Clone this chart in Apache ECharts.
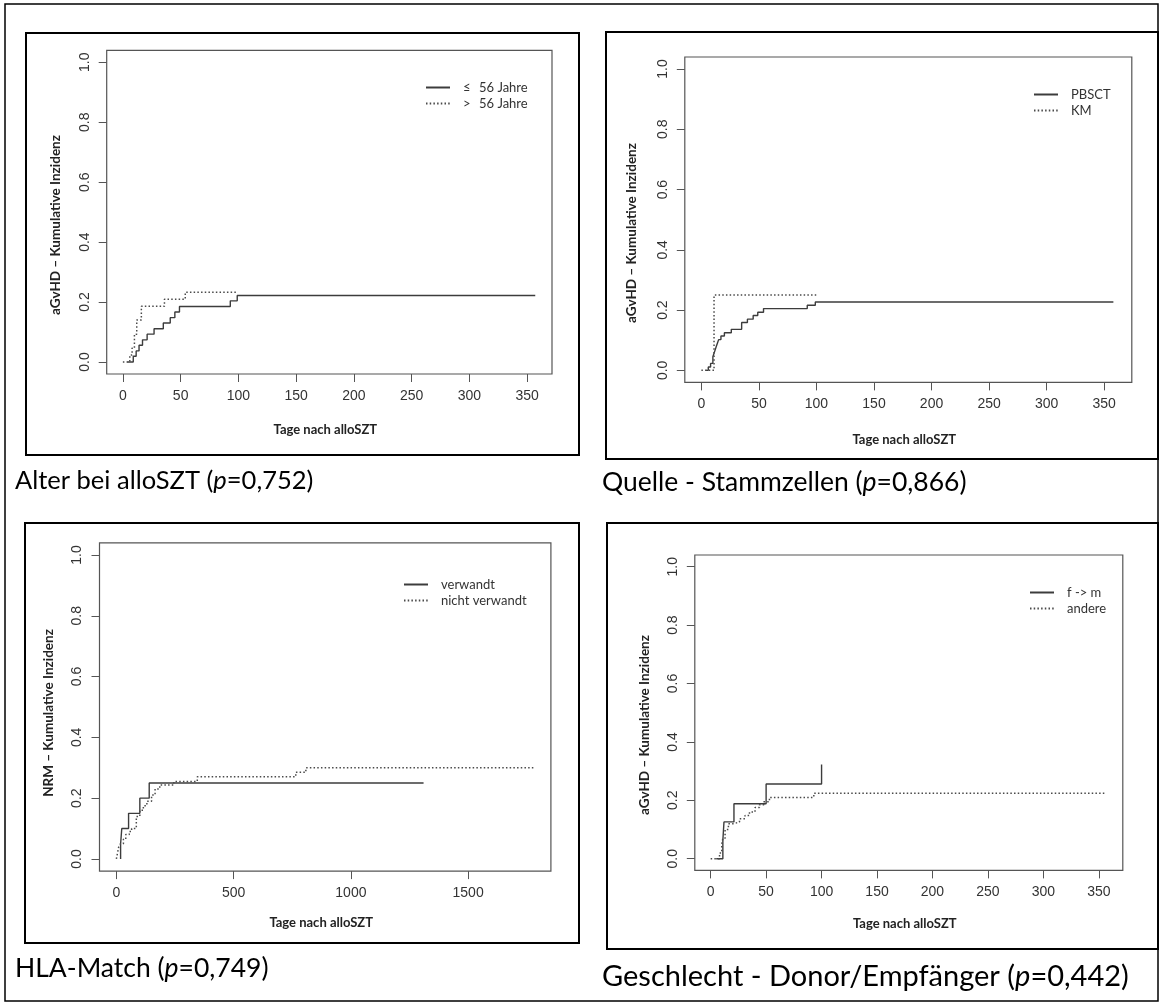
<!DOCTYPE html>
<html>
<head>
<meta charset="utf-8">
<title>Kumulative Inzidenz nach alloSZT</title>
<script src="https://cdn.jsdelivr.net/npm/echarts@6/dist/echarts.min.js"></script>
<style>
  html, body { margin: 0; padding: 0; background: #fff; }
  #chart { width: 1162px; height: 1005px; }
</style>
</head>
<body>
<div id="chart"></div>
<script>
// ---- Alter bei alloSZT (aGvHD) ----
const ageYoungDays = [4, 9, 11.5, 14, 17, 21, 27, 35, 41, 45, 49, 93, 99, 357];
const ageYoungCI   = [0, 0.019, 0.037, 0.056, 0.074, 0.093, 0.111, 0.130, 0.148, 0.167, 0.185, 0.204, 0.222, 0.222];
const ageOldDays   = [0, 6, 8, 10, 12, 16, 36, 54, 98];
const ageOldCI     = [0, 0.023, 0.047, 0.093, 0.140, 0.186, 0.209, 0.233, 0.233];

// ---- Quelle - Stammzellen (aGvHD) ----
const pbsctDays = [4, 6, 8, 10, 11, 12, 13, 14, 15, 17, 20, 26, 35, 40, 45, 49, 54, 92, 99, 358];
const pbsctCI   = [0, 0.011, 0.023, 0.045, 0.057, 0.068, 0.080, 0.091, 0.102, 0.114, 0.125, 0.136, 0.159, 0.170, 0.182, 0.193, 0.205, 0.216, 0.227, 0.227];
const kmDays    = [0, 11, 100];
const kmCI      = [0, 0.25, 0.25];

// ---- HLA-Match (NRM) ----
const relatedDays   = [18, 18, 23, 52, 100, 140, 1310];
const relatedCI     = [0, 0.05, 0.10, 0.15, 0.20, 0.25, 0.25];
const unrelatedDays = [0, 5, 10, 18, 30, 40, 55, 65, 85, 100, 115, 130, 150, 165, 185, 245, 345, 765, 808, 1780];
const unrelatedCI   = [0, 0.02, 0.04, 0.05, 0.065, 0.08, 0.09, 0.10, 0.14, 0.16, 0.175, 0.19, 0.21, 0.23, 0.243, 0.255, 0.27, 0.285, 0.30, 0.30];

// ---- Geschlecht - Donor/Empfänger (aGvHD) ----
const fmDays    = [5, 11, 12, 21, 50, 100];
const fmCI      = [0, 0.063, 0.126, 0.188, 0.256, 0.323];
const otherDays = [0, 8, 10, 11, 13, 16, 21, 26, 31, 35, 40, 44, 48, 53, 93, 355];
const otherCI   = [0, 0.02, 0.05, 0.07, 0.10, 0.12, 0.126, 0.137, 0.148, 0.16, 0.175, 0.185, 0.195, 0.21, 0.224, 0.224];

// ---- axis ticks, labels and texts ----
const xTicksShort = [0, 50, 100, 150, 200, 250, 300, 350];
const xTicksLong  = [0, 500, 1000, 1500];
const yTicks      = [0, 0.2, 0.4, 0.6, 0.8, 1.0];
const xTitle = 'Tage nach alloSZT';
const yTitles = ['aGvHD \u2013 Kumulative Inzidenz', 'aGvHD \u2013 Kumulative Inzidenz',
                 'NRM \u2013 Kumulative Inzidenz', 'aGvHD \u2013 Kumulative Inzidenz'];
const captionNames  = ['Alter bei alloSZT', 'Quelle - Stammzellen', 'HLA-Match', 'Geschlecht - Donor/Empf\u00e4nger'];
const captionPValues = ['0,752', '0,866', '0,749', '0,442'];
const groupNames = [
  ['\u2264 56 Jahre', '> 56 Jahre'],
  ['PBSCT', 'KM'],
  ['verwandt', 'nicht verwandt'],
  ['f -> m', 'andere']
];

const FONT_NUM  = '"Liberation Sans", Arial, Helvetica, sans-serif';
const FONT_TEXT = 'Lato, "Open Sans", sans-serif';
const LINE_SOLID  = '#3c3c3c';
const LINE_DOTTED = '#4a4a4a';
const BOX = '#555';

// panel layout: plot box, axis range, frame, text anchors
const panels = [
  { grid: {left: 106.7, top: 50.3, width: 445.3, height: 323.7}, xMin: -14, xMax: 371.5, ticks: xTicksShort,
    frame: [26, 33, 553, 422], yTitle: [56, 225], xTitleY: 430, caption: [15, 481], captionSize: 25.5, legend: [425, 81],
    curves: [[ageYoungDays, ageYoungCI], [ageOldDays, ageOldCI]] },
  { grid: {left: 684.8, top: 57, width: 447, height: 325.4}, xMin: -14.4, xMax: 374, ticks: xTicksShort,
    frame: [606, 32, 552, 427], yTitle: [632, 233], xTitleY: 440, caption: [602, 482], captionSize: 26.5, legend: [1033, 88],
    curves: [[pbsctDays, pbsctCI], [kmDays, kmCI]] },
  { grid: {left: 99.5, top: 542.8, width: 451.4, height: 328.3}, xMin: -72, xMax: 1853, ticks: xTicksLong,
    frame: [25, 523, 554, 420], yTitle: [49, 713], xTitleY: 923, caption: [15, 968], captionSize: 26.5, legend: [403, 578],
    curves: [[relatedDays, relatedCI], [unrelatedDays, unrelatedCI]] },
  { grid: {left: 694.8, top: 555, width: 428, height: 315.4}, xMin: -14.3, xMax: 371.6, ticks: xTicksShort,
    frame: [607, 523, 551, 426], yTitle: [645, 725], xTitleY: 924, caption: [602, 977], captionSize: 29, legend: [1029, 586],
    curves: [[fmDays, fmCI], [otherDays, otherCI]] }
];

function toPairs(days, values) {
  return days.map((d, i) => [d, values[i]]);
}

const grids = [], xAxes = [], yAxes = [], series = [], legends = [], graphics = [];

// outer border of the figure
graphics.push({ type: 'rect', shape: {x: 5, y: 4, width: 1153, height: 997},
  style: {fill: 'none', stroke: '#000', lineWidth: 1.5}, z: 10 });

panels.forEach((p, i) => {
  grids.push(Object.assign({ show: true, borderColor: BOX, borderWidth: 1.2, backgroundColor: 'transparent' }, p.grid));

  xAxes.push({
    gridIndex: i, type: 'value', min: p.xMin, max: p.xMax,
    axisLine: {show: false, onZero: false}, splitLine: {show: false},
    axisTick: {show: true, inside: false, length: 8, customValues: p.ticks, lineStyle: {color: BOX, width: 1}},
    axisLabel: {customValues: p.ticks, margin: 15, fontFamily: FONT_NUM, fontSize: 14, color: '#333',
      formatter: v => String(v)}
  });
  yAxes.push({
    gridIndex: i, type: 'value', min: -0.04, max: 1.04,
    axisLine: {show: false, onZero: false}, splitLine: {show: false},
    axisTick: {show: true, inside: false, length: 8, customValues: yTicks, lineStyle: {color: BOX, width: 1}},
    axisLabel: {customValues: yTicks, rotate: 90, margin: 15, fontFamily: FONT_NUM, fontSize: 14, color: '#333',
      formatter: v => v.toFixed(1)}
  });

  const [solid, dotted] = p.curves;
  series.push({
    name: groupNames[i][0], type: 'line', xAxisIndex: i, yAxisIndex: i, step: 'end',
    symbol: 'none', showSymbol: false, silent: true, animation: false,
    lineStyle: {color: LINE_SOLID, width: 1.4, type: 'solid'},
    itemStyle: {color: LINE_SOLID},
    data: toPairs(solid[0], solid[1])
  });
  series.push({
    name: groupNames[i][1], type: 'line', xAxisIndex: i, yAxisIndex: i, step: 'end',
    symbol: 'none', showSymbol: false, silent: true, animation: false,
    lineStyle: {color: LINE_DOTTED, width: 1.5, type: [1.5, 2.2]},
    itemStyle: {color: LINE_DOTTED},
    data: toPairs(dotted[0], dotted[1])
  });

  legends.push({
    data: groupNames[i], orient: 'vertical', left: p.legend[0], top: p.legend[1],
    padding: 0, itemGap: 3, itemWidth: 24, itemHeight: 12, selectedMode: false,
    itemStyle: {color: 'transparent', borderWidth: 0, opacity: 0},
    formatter: name => name.replace(/^([\u2264>]) /, '{s|$1}'),
    textStyle: {fontFamily: FONT_TEXT, fontSize: 13, color: '#333', padding: [0, 0, 0, 8],
      rich: {s: {width: 16, fontFamily: FONT_TEXT, fontSize: 13, color: '#333'}}}
  });

  // panel frame
  graphics.push({ type: 'rect', shape: {x: p.frame[0], y: p.frame[1], width: p.frame[2], height: p.frame[3]},
    style: {fill: 'none', stroke: '#000', lineWidth: 2}, z: 10 });

  // axis titles
  graphics.push({ type: 'text', x: p.yTitle[0], y: p.yTitle[1], rotation: Math.PI / 2, z: 10,
    style: {text: yTitles[i], font: 'bold 13.5px ' + FONT_TEXT, fill: '#222', align: 'center', verticalAlign: 'middle',
      textAlign: 'center', textVerticalAlign: 'middle'} });
  graphics.push({ type: 'text', x: p.grid.left + p.grid.width / 2 - 4, y: p.xTitleY, z: 10,
    style: {text: xTitle, font: 'bold 13px ' + FONT_TEXT, fill: '#222', align: 'center', verticalAlign: 'middle',
      textAlign: 'center', textVerticalAlign: 'middle'} });

  // caption with italic p
  graphics.push({ type: 'text', x: p.caption[0], y: p.caption[1], z: 10,
    style: {text: captionNames[i] + ' ({i|p}=' + captionPValues[i] + ')',
      font: p.captionSize + 'px ' + FONT_TEXT, fill: '#000', align: 'left', verticalAlign: 'middle',
      textAlign: 'left', textVerticalAlign: 'middle',
      rich: {i: {fontStyle: 'italic', fontSize: p.captionSize, fontFamily: FONT_TEXT, fill: '#000'}}} });
});

const chart = echarts.init(document.getElementById('chart'), null, {renderer: 'canvas'});
chart.setOption({
  backgroundColor: '#fff',
  animation: false,
  grid: grids,
  xAxis: xAxes,
  yAxis: yAxes,
  legend: legends,
  series: series,
  graphic: graphics
});
</script>
</body>
</html>
